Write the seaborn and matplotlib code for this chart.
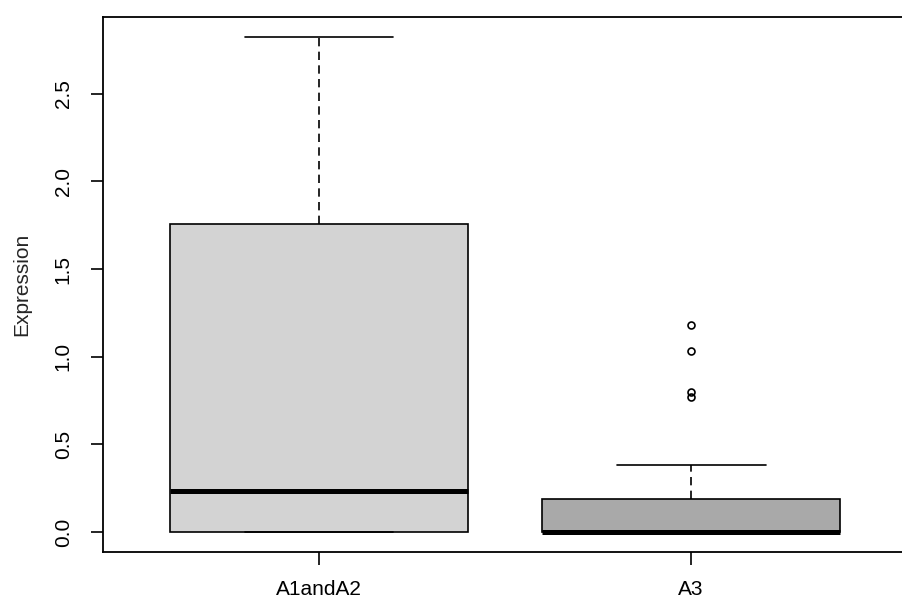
import matplotlib
matplotlib.use("Agg")
import matplotlib.pyplot as plt
import seaborn as sns
import pandas as pd

# 그룹별 발현값
groups = ["A1andA2", "A3"]
a1a2_values = [0.0, 0.0, 0.0, 0.1, 0.236, 0.9, 1.755, 2.3, 2.822]
a3_values = [0.0, 0.0, 0.0, 0.0, 0.0, 0.0, 0.0, 0.0, 0.0, 0.002, 0.003,
             0.01, 0.03, 0.08, 0.15, 0.19, 0.382, 0.77, 0.80, 1.033, 1.179]
box_colors = ["#D3D3D3", "#A9A9A9"]
yticks = [0.0, 0.5, 1.0, 1.5, 2.0, 2.5]

df = pd.DataFrame({
    "group": [groups[0]] * len(a1a2_values) + [groups[1]] * len(a3_values),
    "Expression": a1a2_values + a3_values,
})

sns.set_style("ticks")
plt.rcParams['font.family'] = ['Liberation Sans', 'DejaVu Sans']

fig = plt.figure(figsize=(9.02, 6.05), dpi=100)
ax = fig.add_axes([0.1145, 0.0876, 0.891, 0.8838])

sns.boxplot(data=df, x="group", y="Expression", hue="group", order=groups,
            hue_order=groups, palette=box_colors, legend=False, width=0.8,
            linecolor="black", linewidth=1.2, whis=1.5, ax=ax,
            boxprops=dict(edgecolor="black", linewidth=1.2),
            medianprops=dict(color="black", linewidth=3.6),
            whiskerprops=dict(color="black", linewidth=1.2, linestyle=(0, (5, 3.2))),
            capprops=dict(color="black", linewidth=1.2),
            flierprops=dict(marker="o", markerfacecolor="none",
                            markeredgecolor="black", markersize=5,
                            markeredgewidth=1.2))

ax.set_xlim(-0.58, 1.58)
ax.set_ylim(-0.113, 2.935)
ax.set_yticks(yticks)
ax.set_yticklabels([f"{t:.1f}" for t in yticks], rotation=90, va="center")

for s in ax.spines.values():
    s.set_visible(True)
    s.set_linewidth(1.3)
    s.set_color("black")

ax.tick_params(axis="both", length=9, width=1.2, colors="black", labelsize=15)
ax.tick_params(axis="y", pad=13)
ax.tick_params(axis="x", pad=11)

ax.set_xlabel("")
ax.set_ylabel("Expression", fontsize=15, va="center")
ax.yaxis.set_label_coords((22 - 103.3) / (0.891 * 902), 0.5)

fig.savefig("out.png", dpi=100)
